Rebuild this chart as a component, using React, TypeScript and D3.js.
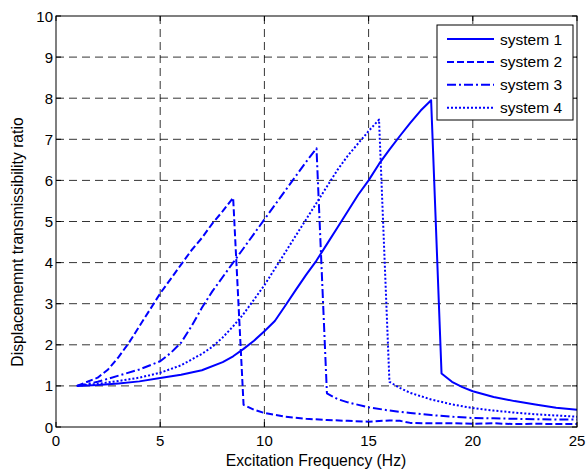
import React from "react";
import * as d3 from "d3";

const xTicks = [0, 5, 10, 15, 20, 25];
const yTicks = [0, 1, 2, 3, 4, 5, 6, 7, 8, 9, 10];

const s1x = [1, 2, 3, 4, 5, 6, 7, 8, 8.5, 9, 9.5, 10, 10.5, 11, 11.5, 12, 12.5, 13, 13.5, 14, 14.5, 15, 15.5, 16, 16.5, 17, 17.5, 18, 18.5, 19, 19.5, 20, 21, 22, 23, 24, 25];
const s1y = [1.0, 1.02, 1.06, 1.11, 1.19, 1.27, 1.38, 1.58, 1.72, 1.9, 2.1, 2.33, 2.58, 2.95, 3.33, 3.7, 4.05, 4.45, 4.85, 5.25, 5.65, 6.0, 6.4, 6.75, 7.08, 7.4, 7.7, 7.95, 1.3, 1.1, 0.97, 0.87, 0.73, 0.63, 0.55, 0.47, 0.42];

const s2x = [1, 2, 2.5, 3, 3.5, 4, 4.5, 5, 5.5, 6, 6.5, 7, 7.5, 8, 8.5, 9, 9.5, 10, 11, 12, 13, 14, 15, 16, 16.5, 17, 18, 19, 20, 21, 22, 23, 24, 25];
const s2y = [1.0, 1.2, 1.4, 1.7, 2.05, 2.45, 2.85, 3.25, 3.6, 3.95, 4.3, 4.6, 4.95, 5.25, 5.58, 0.54, 0.42, 0.34, 0.25, 0.2, 0.17, 0.15, 0.13, 0.16, 0.15, 0.1, 0.09, 0.09, 0.08, 0.09, 0.07, 0.08, 0.07, 0.07];

const s3x = [1, 2, 3, 4, 5, 5.5, 6, 6.5, 7, 7.5, 8, 8.5, 9, 9.5, 10, 10.5, 11, 11.5, 12, 12.5, 13, 13.5, 14, 15, 16, 17, 18, 19, 20, 21, 22, 23, 24, 25];
const s3y = [1.0, 1.1, 1.25, 1.4, 1.6, 1.8, 2.05, 2.45, 2.9, 3.3, 3.65, 4.0, 4.35, 4.7, 5.05, 5.4, 5.75, 6.1, 6.45, 6.78, 0.82, 0.68, 0.6, 0.48, 0.4, 0.34, 0.29, 0.25, 0.22, 0.21, 0.2, 0.19, 0.18, 0.18];

const s4x = [1, 2, 3, 4, 5, 6, 7, 7.5, 8, 8.5, 9, 9.5, 10, 10.5, 11, 11.5, 12, 12.5, 13, 13.5, 14, 14.5, 15, 15.5, 16, 16.5, 17, 18, 19, 20, 21, 22, 23, 24, 25];
const s4y = [1.0, 1.05, 1.12, 1.2, 1.32, 1.5, 1.78, 1.95, 2.18, 2.45, 2.75, 3.1, 3.45, 3.85, 4.25, 4.65, 5.05, 5.45, 5.85, 6.25, 6.6, 6.9, 7.2, 7.48, 1.1, 0.95, 0.83, 0.67, 0.55, 0.46, 0.4, 0.35, 0.31, 0.28, 0.25];

const seriesNames = ["system 1", "system 2", "system 3", "system 4"];
const seriesX = [s1x, s2x, s3x, s4x];
const seriesY = [s1y, s2y, s3y, s4y];
const dashes = ["none", "7,3", "9,3,2,3", "2,2"];

const W = 586, H = 471;
const L = 56, R = 577, T = 16, B = 427;

export default function App() {
  const x = d3.scaleLinear().domain([0, 25]).range([L, R]);
  const y = d3.scaleLinear().domain([0, 10]).range([B, T]);
  const line = d3.line<[number, number]>().x(d => x(d[0])).y(d => y(d[1]));
  const font = "Liberation Sans, Arial, sans-serif";
  const legX = 437, legY = 25, legW = 136, legH = 95;
  return (
    <svg width={W} height={H} style={{ position: "absolute", left: 0, top: 0 }} fontFamily={font}>
      <rect x={0} y={0} width={W} height={H} fill="#fff" />
      {xTicks.filter(t => t > 0 && t < 25).map(t => (
        <line key={"gx" + t} x1={x(t)} x2={x(t)} y1={T} y2={B} stroke="#000" strokeWidth={0.8} strokeDasharray="8,5" />
      ))}
      {yTicks.filter(t => t > 0 && t < 10).map(t => (
        <line key={"gy" + t} x1={L} x2={R} y1={y(t)} y2={y(t)} stroke="#000" strokeWidth={0.8} strokeDasharray="8,5" />
      ))}
      {seriesNames.map((n, i) => (
        <path key={n} d={line(seriesX[i].map((v, j) => [v, seriesY[i][j]]) as [number, number][]) || ""}
          fill="none" stroke="#0000ff" strokeWidth={2} strokeDasharray={dashes[i]} strokeLinejoin="round" />
      ))}
      <rect x={L} y={T} width={R - L} height={B - T} fill="none" stroke="#000" strokeWidth={1} />
      {xTicks.map(t => (
        <g key={"tx" + t}>
          <line x1={x(t)} x2={x(t)} y1={B} y2={B - 5} stroke="#000" />
          <line x1={x(t)} x2={x(t)} y1={T} y2={T + 5} stroke="#000" />
          <text x={x(t)} y={B + 19} textAnchor="middle" fontSize={15}>{t}</text>
        </g>
      ))}
      {yTicks.map(t => (
        <g key={"ty" + t}>
          <line x1={L} x2={L + 5} y1={y(t)} y2={y(t)} stroke="#000" />
          <line x1={R} x2={R - 5} y1={y(t)} y2={y(t)} stroke="#000" />
          <text x={L - 3} y={y(t) + 5.5} textAnchor="end" fontSize={15}>{t}</text>
        </g>
      ))}
      <text x={316} y={H - 5} textAnchor="middle" fontSize={15.7}>Excitation Frequency (Hz)</text>
      <text transform={`translate(23,242) rotate(-90)`} textAnchor="middle" fontSize={15.7}>Displacememnt transmissibility ratio</text>
      <rect x={legX} y={legY} width={legW} height={legH} fill="#fff" stroke="#000" strokeWidth={1} />
      {seriesNames.map((n, i) => (
        <g key={"lg" + n}>
          <line x1={447} x2={494} y1={39 + i * 22.9} y2={39 + i * 22.9} stroke="#0000ff" strokeWidth={2} strokeDasharray={dashes[i]} />
          <text x={500} y={39 + i * 22.9 + 5.5} fontSize={15.5}>{n}</text>
        </g>
      ))}
    </svg>
  );
}
